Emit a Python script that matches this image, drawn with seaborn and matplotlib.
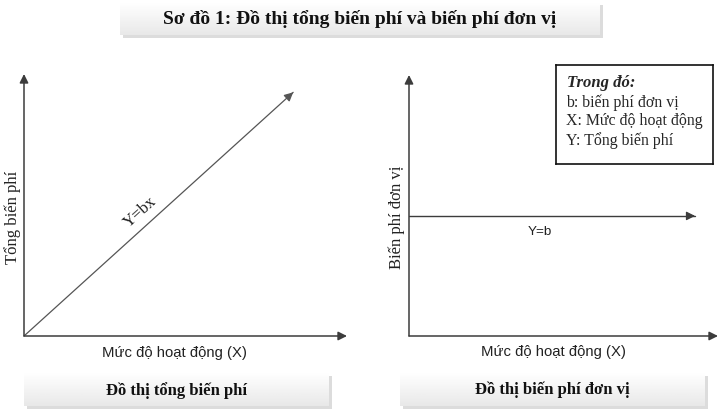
"""
Sơ đồ 1: đồ thị tổng biến phí và biến phí đơn vị.
"""

import matplotlib

matplotlib.use("Agg")
import matplotlib.pyplot as plt
import numpy as np
import seaborn as sns

# --- data -------------------------------------------------------------
activity = [0, 10]              # Mức độ hoạt động (X)
total_variable_cost = [0, 9.3]  # Y = bx
unit_activity = [0, 10]
unit_variable_cost = [4.6, 4.6]  # Y = b

title = "Sơ đồ 1: Đồ thị tổng biến phí và biến phí đơn vị"
caption_left = "Đồ thị tổng biến phí"
caption_right = "Đồ thị biến phí đơn vị"
x_label = "Mức độ hoạt động (X)"
y_label_left = "Tổng biến phí"
y_label_right = "Biến phí đơn vị"
line_label_left = "Y=bx"
line_label_right = "Y=b"
legend_head = "Trong đó:"
legend_lines = ["b: biến phí đơn vị", "X: Mức độ hoạt động", "Y: Tổng biến phí"]

W, H = 720, 411
SERIF = ["Liberation Serif", "DejaVu Serif"]
SANS = ["Liberation Sans", "DejaVu Sans"]
INK = "#3c3c3c"

sns.set_theme(style="white")
plt.rcParams["font.family"] = SERIF


def px(x0, y0, x1, y1):
    """Pixel box (top-left origin) -> figure fraction rect."""
    return [x0 / W, 1 - y1 / H, (x1 - x0) / W, (y1 - y0) / H]


def bare(ax):
    ax.set_xticks([])
    ax.set_yticks([])
    for s in ax.spines.values():
        s.set_visible(False)


def arrow_axes(ax):
    style = dict(arrowstyle="-|>", color=INK, lw=1.1, mutation_scale=13,
                 shrinkA=0, shrinkB=0)
    ax.annotate("", xy=(1, 0), xytext=(0, 0), xycoords="axes fraction",
                arrowprops=style, annotation_clip=False)
    ax.annotate("", xy=(0, 1), xytext=(0, 0), xycoords="axes fraction",
                arrowprops=style, annotation_clip=False)


def arrow_head(ax, xs, ys, color):
    x0, x1 = xs[-2], xs[-1]
    y0, y1 = ys[-2], ys[-1]
    start = (x1 - 0.02 * (x1 - x0), y1 - 0.02 * (y1 - y0))
    ax.annotate("", xy=(x1, y1), xytext=start,
                arrowprops=dict(arrowstyle="-|>", color=color, lw=0.9,
                                mutation_scale=13, shrinkA=0, shrinkB=0))


def shaded_box(fig, box, text, size):
    x0, y0, x1, y1 = box
    sh = fig.add_axes(px(x0 + 3, y0 + 3, x1 + 3, y1 + 3))
    sh.set_facecolor("#dcdcdc")
    bare(sh)
    ax = fig.add_axes(px(*box))
    grad = np.linspace(1.0, 0.91, 50).reshape(-1, 1)
    ax.imshow(grad, cmap="gray", vmin=0, vmax=1, aspect="auto",
              extent=(0, 1, 0, 1))
    bare(ax)
    ax.text(0.5, 0.48, text, ha="center", va="center", fontsize=size,
            fontweight="bold", family=SERIF, color="#111111")


fig = plt.figure(figsize=(W / 100, H / 100), dpi=100)
fig.patch.set_facecolor("white")

# --- left panel: tổng biến phí -----------------------------------------
ax1 = fig.add_axes(px(24, 74, 347, 336))
sns.lineplot(x=activity, y=total_variable_cost, ax=ax1, color="#555555",
             lw=0.9)
ax1.set_xlim(0, 12)
ax1.set_ylim(0, 10)
bare(ax1)
ax1.set_xlabel("")
ax1.set_ylabel("")
arrow_axes(ax1)
arrow_head(ax1, activity, total_variable_cost, "#555555")
ax1.text(-0.034, 0.454, y_label_left, rotation=90, ha="center", va="center",
         fontsize=12, family=SERIF, color="#222222", transform=ax1.transAxes)
ax1.text(0.467, -0.063, x_label, ha="center", va="center", fontsize=10.7,
         family=SANS, color="#222222", transform=ax1.transAxes)
ax1.text(0.359, 0.473, line_label_left, rotation=42, ha="center",
         va="center", fontsize=12, family=SERIF, color="#222222",
         transform=ax1.transAxes)

# --- right panel: biến phí đơn vị -------------------------------------
ax2 = fig.add_axes(px(409, 75, 718, 336))
sns.lineplot(x=unit_activity, y=unit_variable_cost, ax=ax2, color=INK,
             lw=1.0)
ax2.set_xlim(0, 10.8)
ax2.set_ylim(0, 10)
bare(ax2)
ax2.set_xlabel("")
ax2.set_ylabel("")
arrow_axes(ax2)
arrow_head(ax2, unit_activity, unit_variable_cost, INK)
ax2.text(-0.039, 0.456, y_label_right, rotation=90, ha="center", va="center",
         fontsize=12, family=SERIF, color="#222222", transform=ax2.transAxes)
ax2.text(0.466, -0.063, x_label, ha="center", va="center", fontsize=10.7,
         family=SANS, color="#222222", transform=ax2.transAxes)
ax2.text(0.424, 0.398, line_label_right, ha="center", va="center",
         fontsize=9.7, family=SANS, color="#222222", transform=ax2.transAxes)

# --- legend box ------------------------------------------------------
lg = fig.add_axes(px(556, 65, 713, 164))
lg.set_xticks([])
lg.set_yticks([])
for s in lg.spines.values():
    s.set_visible(True)
    s.set_color("#111111")
    s.set_linewidth(1.2)
lg.set_facecolor("white")
lg.text(0.07, 0.82, legend_head, ha="left", va="center", fontsize=12,
        fontweight="bold", fontstyle="italic", family=SERIF,
        transform=lg.transAxes)
for i, line in enumerate(legend_lines):
    lg.text(0.065, 0.62 - i * 0.19, line, ha="left", va="center",
            fontsize=11.4, family=SERIF, transform=lg.transAxes)

# --- title and captions -------------------------------------------------
shaded_box(fig, (120, 2, 600, 35), title, 14)
shaded_box(fig, (24, 373, 329, 406), caption_left, 12)
shaded_box(fig, (400, 373, 705, 406), caption_right, 12)

fig.savefig("out.png", dpi=100)
